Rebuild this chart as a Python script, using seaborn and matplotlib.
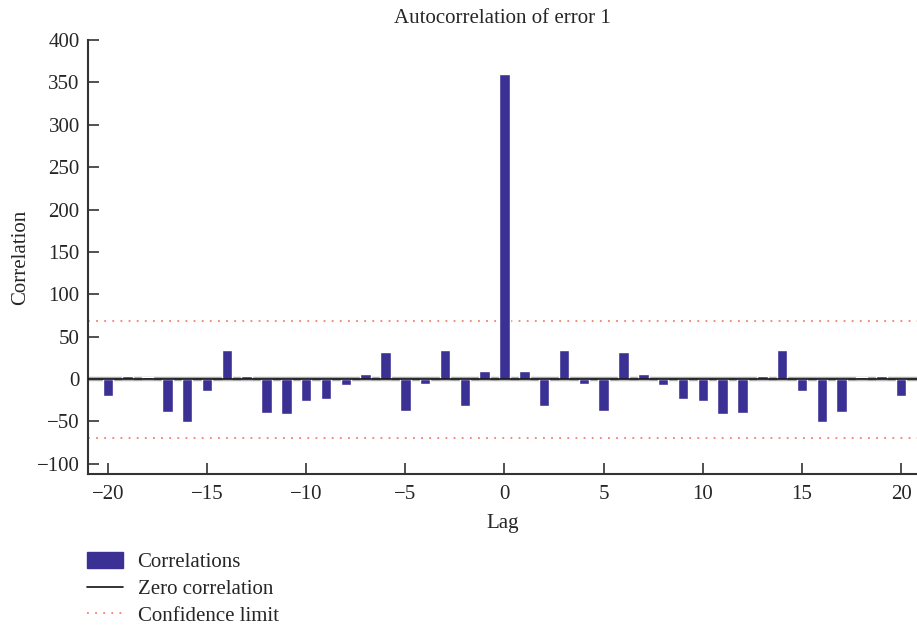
import matplotlib
matplotlib.use("Agg")
import matplotlib.pyplot as plt
import seaborn as sns
import numpy as np
import pandas as pd
from matplotlib.patches import Patch
from matplotlib.lines import Line2D

# Data
lags = list(range(-20, 21))
half = [-20, 3.5, 2.5, -39, -51, -14, 34, 3.5, -40, -41, -26, -23.5, -7, 6, 32, -38, -6, 34, -32, 9.5]
correlations = half + [360] + half[::-1]
conf_limit = 69

bar_color = "#3b3094"
conf_color = "#f4806a"

sns.set_style("ticks")
plt.rcParams['font.family'] = ['Liberation Serif', 'DejaVu Serif']
plt.rcParams['font.size'] = 15

df = pd.DataFrame({"lag": lags, "corr": correlations})

fig = plt.figure(figsize=(9.17, 6.27), dpi=100)
ax = fig.add_axes([0.096, 0.244, 0.904, 0.692])

sns.barplot(data=df, x="lag", y="corr", native_scale=True, width=0.53,
            color=bar_color, saturation=1, ax=ax, zorder=2)
ax.axhline(0, color="#aaaaaa", lw=3.2, zorder=1)
ax.axhline(0, color="#111111", lw=1.2, zorder=3)
ax.axhline(conf_limit, color=conf_color, lw=1.3, ls=(0, (1, 3.5)), zorder=1)
ax.axhline(-conf_limit, color=conf_color, lw=1.3, ls=(0, (1, 3.5)), zorder=1)

ax.set_xlim(-21, 20.8)
ax.set_ylim(-112, 400)
ax.set_xticks(range(-20, 21, 5))
ax.set_xticklabels([str(t).replace("-", "\u2212") for t in range(-20, 21, 5)])
ax.set_yticks(range(-100, 401, 50))
ax.set_yticklabels([str(t).replace("-", "\u2212") for t in range(-100, 401, 50)])
ax.tick_params(direction="in", length=8, width=1.2, color="#333333", labelsize=15,
               pad=6, bottom=True, left=True)
ax.tick_params(axis="x", pad=8)

for s in ["top", "right"]:
    ax.spines[s].set_visible(False)
for s in ["left", "bottom"]:
    ax.spines[s].set_color("#333333")
    ax.spines[s].set_linewidth(1.5)

ax.set_title("Autocorrelation of error 1", fontsize=15, pad=12)
ax.set_xlabel("Lag", fontsize=15, labelpad=7)
ax.set_ylabel("Correlation", fontsize=15, labelpad=5)

handles = [
    Patch(facecolor=bar_color, edgecolor=bar_color),
    Line2D([0], [0], color="#111111", lw=1.2),
    Line2D([0], [0], color=conf_color, lw=1.3, ls=(0, (1, 3.5))),
]
labels = ["Correlations", "Zero correlation", "Confidence limit"]
fig.legend(handles, labels, loc="upper left", bbox_to_anchor=(0.095, 0.119),
           frameon=False, fontsize=15, handlelength=1.7, handleheight=0.75,
           labelspacing=0.33, handletextpad=0.72, borderaxespad=0, borderpad=0)

fig.savefig("out.png", dpi=100)
